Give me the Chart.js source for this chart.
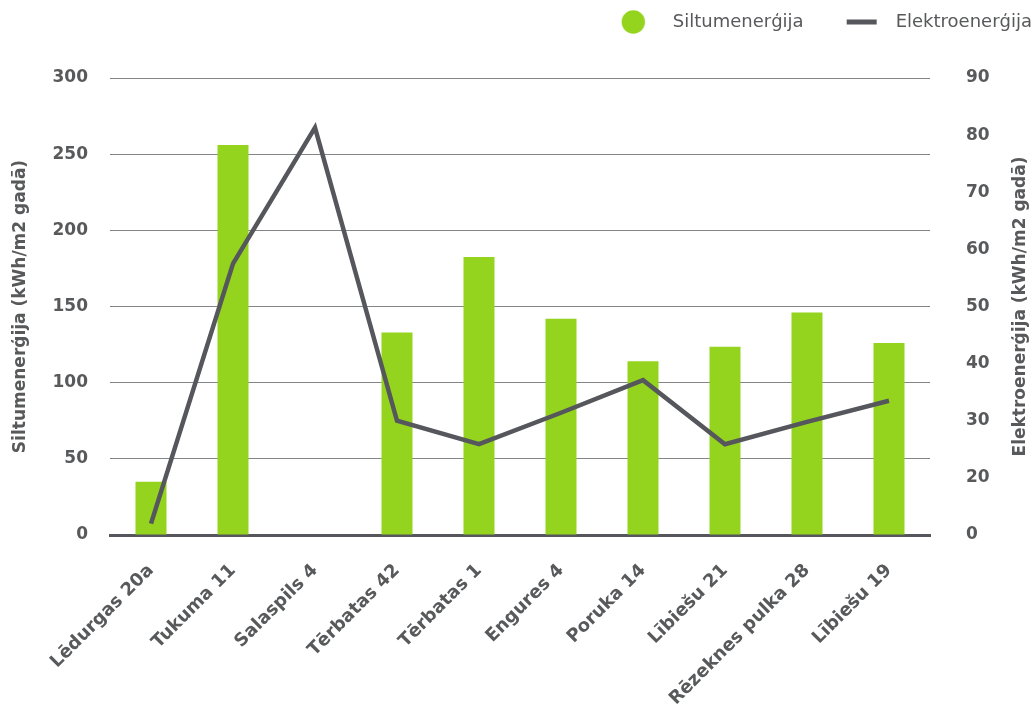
<!DOCTYPE html>
<html><head><meta charset="utf-8">
<script src="https://cdn.jsdelivr.net/npm/chart.js@4.4.1/dist/chart.umd.min.js"></script>
<style>html,body{margin:0;padding:0;background:#fff;overflow:hidden}#wrap{position:relative;width:1036px;height:708px}</style>
</head><body><div id="wrap"><canvas id="c"></canvas></div>
<script>
const categories = ['Lēdurgas 20a','Tukuma 11','Salaspils 4','Tērbatas 42','Tērbatas 1','Engures 4','Poruka 14','Lībiešu 21','Rēzeknes pulka 28','Lībiešu 19'];
const heatValues = [35, 256, 0, 133, 182.5, 142, 114, 123.5, 146, 126];
const elecValues = [12, 57.5, 81.3, 30, 25.9, 31.4, 37.1, 25.9, 29.8, 33.5];
const leftTickLabels = ['0','50','100','150','200','250','300'];
const rightTickLabels = ['0','20','30','40','50','60','70','80','90'];
const seriesNames = ['Siltumenerģija','Elektroenerģija'];
const axisTitles = ['Siltumenerģija (kWh/m2 gadā)','Elektroenerģija (kWh/m2 gadā)'];

const GREEN = '#94d41f', DARK = '#55575c', TEXT = '#58595b', GRID = '#848589';
const FONT = "'DejaVu Sans', sans-serif";

function makeIcon(kind){
  const c = document.createElement('canvas'); c.width = 43; c.height = 26;
  const g = c.getContext('2d');
  if (kind === 'circle') { g.fillStyle = GREEN; g.beginPath(); g.arc(12.5, 13, 11.7, 0, Math.PI*2); g.fill(); }
  else { g.fillStyle = DARK; g.fillRect(3, 10.5, 30, 5); }
  return c;
}
const icons = [makeIcon('circle'), makeIcon('line')];

const tweaks = {
  id: 'tweaks',
  afterInit(chart){
    const lg = chart.legend; const f = lg.fit;
    lg.fit = function(){ f.call(this); this.height = 78; };
  },
  afterLayout(chart){
    const lg = chart.legend; lg.top -= 27; lg.right += 36;
  },
  afterDraw(chart){
    const ctx = chart.ctx, a = chart.chartArea;
    ctx.save();
    ctx.translate(1021, (a.top + a.bottom) / 2);
    ctx.rotate(-Math.PI / 2);
    ctx.fillStyle = TEXT; ctx.font = "bold 17px " + FONT;
    ctx.textAlign = 'center'; ctx.textBaseline = 'middle';
    ctx.fillText(axisTitles[1], 0, 0);
    ctx.restore();
  }
};

new Chart(document.getElementById('c'), {
  data: {
    labels: categories,
    datasets: [
      { type: 'line', label: seriesNames[1], data: elecValues, yAxisID: 'y1', borderColor: DARK, backgroundColor: DARK,
        borderWidth: 4.5, pointRadius: 0, tension: 0, order: 0 },
      { type: 'bar', label: seriesNames[0], data: heatValues, yAxisID: 'y', backgroundColor: GREEN, borderWidth: 0,
        barPercentage: 0.378, categoryPercentage: 1, order: 1 }
    ]
  },
  options: {
    responsive: true, maintainAspectRatio: false, animation: false,
    layout: { padding: 0 },
    plugins: {
      tooltip: { enabled: false },
      legend: {
        position: 'top', align: 'end',
        labels: {
          usePointStyle: true, pointStyleWidth: 43, padding: 40, color: TEXT,
          font: { family: FONT, size: 18 },
          generateLabels: () => seriesNames.map((n, i) => ({
            text: n, pointStyle: icons[i], fillStyle: i ? DARK : GREEN, strokeStyle: i ? DARK : GREEN,
            lineWidth: 0, hidden: false, datasetIndex: i, fontColor: TEXT
          }))
        }
      }
    },
    scales: {
      x: {
        z: 1,
        grid: { display: false, drawTicks: false },
        border: { display: true, color: DARK, width: 3 },
        ticks: { color: TEXT, font: { family: FONT, size: 18, weight: 'bold' }, maxRotation: 45, minRotation: 45, autoSkip: false, padding: 25 },
        afterFit(s){ s.height = 173; }
      },
      y: {
        position: 'left', min: 0, max: 300,
        ticks: { stepSize: 50, color: TEXT, padding: 22, font: { family: FONT, size: 17, weight: 'bold' },
          callback: (v, i) => leftTickLabels[i] },
        grid: { color: GRID, lineWidth: 1, drawTicks: false },
        border: { display: false },
        title: { display: true, text: axisTitles[0], color: TEXT, font: { family: FONT, size: 17, weight: 'bold' }, padding: { top: 10, bottom: 0 } },
        afterFit(s){ s.width = 110; }
      },
      y1: {
        position: 'right', min: 10, max: 90,
        ticks: { stepSize: 10, color: TEXT, padding: 36, font: { family: FONT, size: 17, weight: 'bold' },
          callback: (v, i) => rightTickLabels[i] },
        grid: { drawOnChartArea: false, drawTicks: false },
        border: { display: false },
        afterFit(s){ s.width = 106; }
      }
    }
  },
  plugins: [tweaks]
});
</script></body></html>
